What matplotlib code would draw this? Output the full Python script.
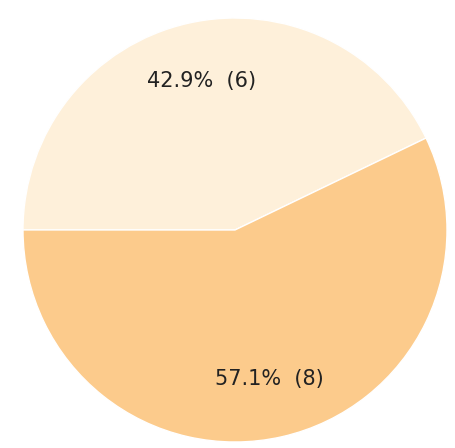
import matplotlib
matplotlib.use("Agg")
import matplotlib.pyplot as plt

counts = [6, 8]
colors = ["#FEF0DA", "#FCCB8C"]

total = sum(counts)


def fmt(p):
    return f"{p:.1f}%  ({round(p * total / 100)})"


fig = plt.figure(figsize=(4.55, 4.48), dpi=100)
ax = fig.add_axes([0, 0, 1, 1])
ax.pie(counts, colors=colors, startangle=25.7, autopct=fmt, pctdistance=0.72,
       textprops={"fontsize": 15, "color": "#222222"},
       wedgeprops={"edgecolor": "white", "linewidth": 1})
ax.set_aspect("auto")
ax.set_xlim(-235 / 212, 220 / 212)
ax.set_ylim(-218 / 212, 230 / 212)
ax.axis("off")

fig.savefig("out.png", dpi=100)
